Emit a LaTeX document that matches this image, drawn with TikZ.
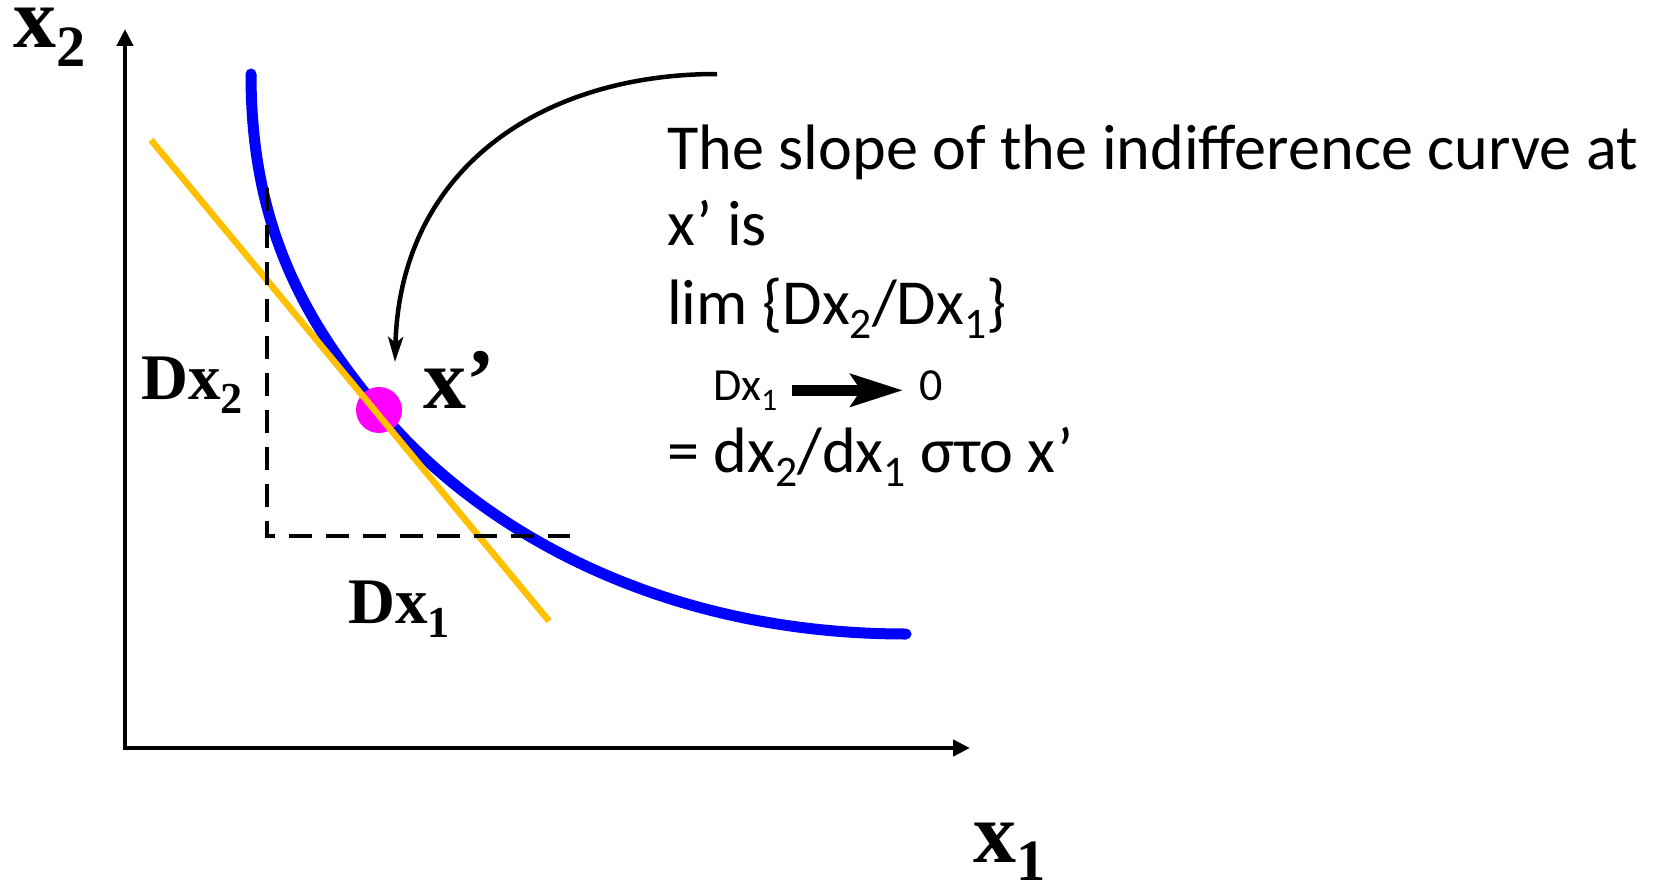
\documentclass[tikz,border=0pt]{standalone}
\usepackage{fontspec}
\setmainfont{Carlito}
\newfontfamily\lblfont{Liberation Serif}
\usetikzlibrary{arrows.meta}
\definecolor{icblue}{HTML}{0000FF}
\definecolor{tangold}{HTML}{FFC000}
\definecolor{dotpink}{HTML}{FF00FF}
\newcommand{\lowsub}[1]{\raisebox{-0.22em}{\scalebox{0.68}{#1}}}
\begin{document}
\begin{tikzpicture}[x=1pt,y=-1pt,inner sep=0pt,
    axis/.style={line width=4.5pt,{Triangle[length=17pt,width=16pt]}-{Triangle[length=17pt,width=16pt]}},
    dashline/.style={line width=4.5pt,dash pattern=on 23pt off 14pt},
    biglbl/.style={font=\lblfont\bfseries\fontsize{86}{100}\selectfont,anchor=base west},
    deltalbl/.style={font=\lblfont\bfseries\fontsize{65}{76}\selectfont,anchor=base west},
    slopetxt/.style={font=\fontsize{64.2}{76}\selectfont,anchor=base west},
    smalltxt/.style={font=\fontsize{46}{55}\selectfont,anchor=base west}]
    \useasboundingbox (0,0) rectangle (1656,883);
    \coordinate (O) at (125,748);
    \coordinate (ytop) at (125,29);
    \coordinate (xend) at (970,748);
    \draw [axis] (ytop) -- (O) -- (xend);
    \node (xtwo) [biglbl] at (13,48) {x\lowsub{2}};
    \node (xone) [biglbl] at (973,862) {x\lowsub{1}};
    \coordinate (ctop) at (251,74);
    \coordinate (cend) at (906,634);
    \draw [icblue,line width=11pt,line cap=round] (ctop) .. controls (251,224) and (302,318) .. (379,410) .. controls (475,526) and (656,634) .. (cend);
    \node (xdot) [circle,fill=dotpink,minimum size=46pt] at (379,410) {};
    \coordinate (tanA) at (151,140);
    \coordinate (tanB) at (549,621);
    \draw [tangold,line width=6.5pt] (tanA) -- (tanB);
    \coordinate (dtop) at (267,188);
    \coordinate (dcorner) at (267,536);
    \coordinate (dright) at (570,536);
    \draw [dashline] (dtop) -- (dcorner) -- (dright);
    \node (dxtwo) [deltalbl] at (141,399) {Dx\lowsub{2}};
    \node (dxonelbl) [deltalbl] at (348,623) {Dx\lowsub{1}};
    \node (xlbl) [biglbl] at (423,408) {x’};
    \coordinate (cstart) at (717,74);
    \coordinate (ctip) at (395,362);
    \draw [line width=4.5pt,-{Stealth[length=25pt,width=15pt,inset=6pt]}] (cstart) .. controls (540,74) and (400,170) .. (ctip);
    \node (slope1) [slopetxt] at (667,169) {The slope of the indifference curve at};
    \node (slope2) [slopetxt] at (667,245) {x’ is};
    \node (slope3) [slopetxt] at (667,324) {lim \{Dx\lowsub{2}/Dx\lowsub{1}\}};
    \node (dxone) [smalltxt] at (713,400) {Dx\lowsub{1}};
    \node (zero) [smalltxt] at (919,400) {0};
    \draw [line width=11pt,shorten <=15pt,shorten >=16pt,-{Stealth[length=52pt,width=32pt,inset=10pt]}] (dxone.east) -- (dxone.east -| zero.west);
    \node (slope5) [slopetxt] at (667,472) {= dx\lowsub{2}/dx\lowsub{1} στο x’};
\end{tikzpicture}
\end{document}
